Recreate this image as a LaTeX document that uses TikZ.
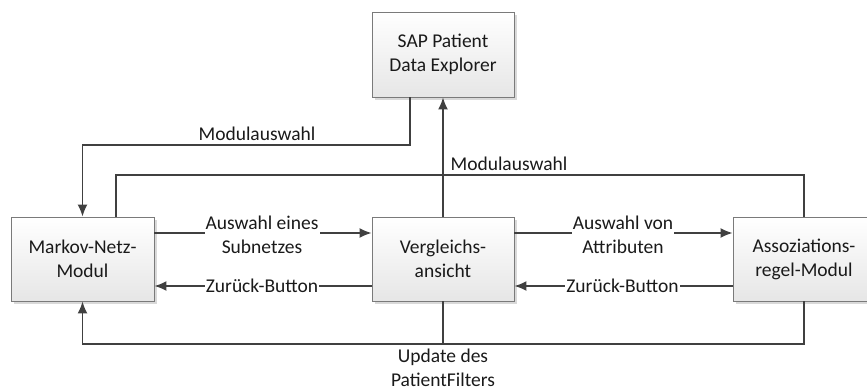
\documentclass[tikz,border=0pt]{standalone}
\usepackage{fontspec}
\setmainfont{Carlito}
\usetikzlibrary{arrows.meta,calc}
\definecolor{linec}{HTML}{404040}
\definecolor{boxborder}{HTML}{7A7A7A}
\definecolor{boxbot}{HTML}{E6E6E6}
\definecolor{txt}{HTML}{1A1A1A}
\tikzset{
  modbox/.style={draw=boxborder, line width=0.9pt, top color=white, bottom color=boxbot,
    minimum width=142pt, minimum height=84pt, align=center, text=txt,
    font=\fontsize{19.5}{24}\selectfont, inner sep=0pt},
  boxshadow/.style={fill=black!25, draw=none, opacity=0.6},
  conn/.style={draw=linec, line width=1.6pt},
  arr/.style={conn, -{Latex[length=12pt,width=10pt]}},
  lbl/.style={text=txt, font=\fontsize{19.5}{24}\selectfont, align=center, inner sep=1pt},
  lblw/.style={lbl, fill=white},
}
\begin{document}
\begin{tikzpicture}[x=1pt,y=-1pt]
\useasboundingbox (0,0) rectangle (867,391);
\clip (0,0) rectangle (867,391);
% shadows
\fill[boxshadow] (374.5,14.5) rectangle (516.5,99.5);
\fill[boxshadow] (13.5,219.5) rectangle (156.5,303.5);
\fill[boxshadow] (374.5,219.5) rectangle (516.5,303.5);
\fill[boxshadow] (735.5,219.5) rectangle (877.5,303.5);
% boxes
\node[modbox, minimum height=85pt] (sap) at (443,54.5) {SAP Patient\\Data Explorer};
\node[modbox, minimum width=143pt] (markov) at (82.5,259) {Markov-Netz-\\Modul};
\node[modbox] (vgl) at (443,259) {Vergleichs-\\ansicht};
\node[modbox] (assoz) at (804,259) {Assoziations-\\regel-Modul};
% coordinates
\coordinate (c1) at (410,145);
\coordinate (c2) at (116,175);
\coordinate (c3) at (443,344);
% connectors
\draw[arr] (sap.south -| c1) -- (c1) -| (markov.north);
\draw[arr] (vgl.north) -- (sap.south);
\draw[conn] (markov.north -| c2) -- (c2) -| (assoz.north);
\draw[arr] ([yshift=26pt]markov.east) -- ([yshift=26pt]vgl.west);
\draw[arr] ([yshift=-27pt]vgl.west) -- ([yshift=-27pt]markov.east);
\draw[arr] ([yshift=26pt]vgl.east) -- ([yshift=26pt]assoz.west);
\draw[arr] ([yshift=-27pt]assoz.west) -- ([yshift=-27pt]vgl.east);
\draw[arr] (vgl.south) -- (c3) -| (markov.south);
\draw[conn] (c3) -| (assoz.south);
% labels
\node[lbl] (l1) at (257,134) {Modulauswahl};
\node[lbl] (l2) at (509,164) {Modulauswahl};
\node[lblw] (l3) at (262,235) {Auswahl eines\\Subnetzes};
\node[lblw] (l4) at (262,286) {Zurück-Button};
\node[lblw] (l5) at (623,235) {Auswahl von\\Attributen};
\node[lblw] (l6) at (622.5,286) {Zurück-Button};
\node[lbl] (l7) at (443,368) {Update des\\PatientFilters};
\end{tikzpicture}
\end{document}
